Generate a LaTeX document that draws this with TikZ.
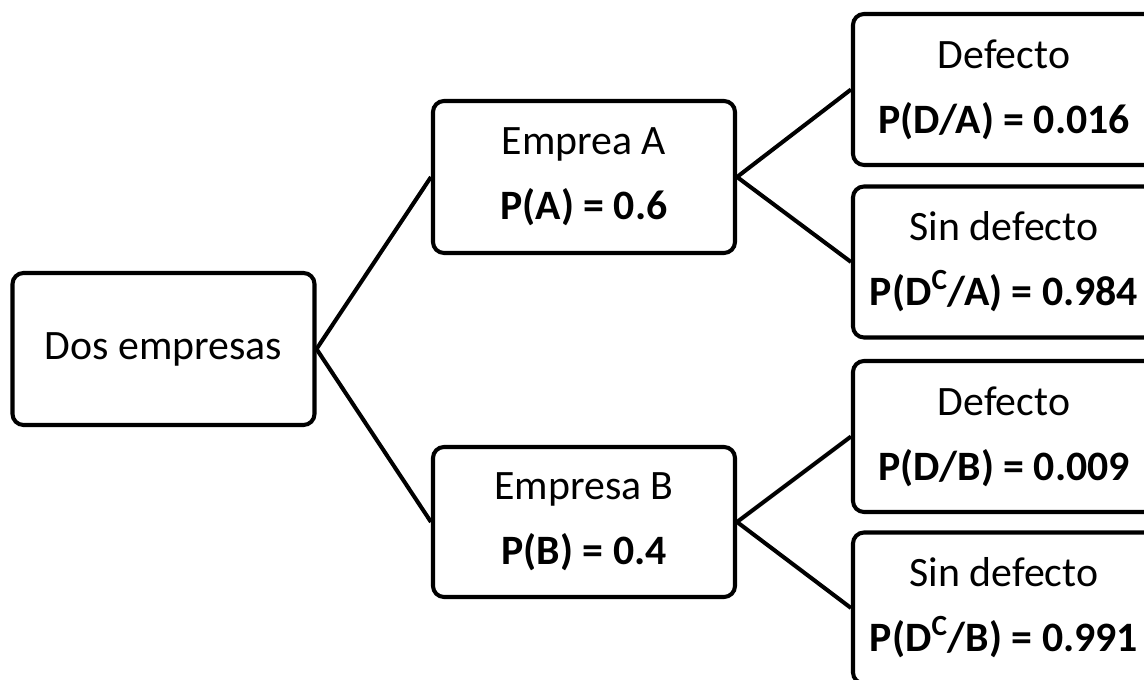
\documentclass[tikz,border=0pt]{standalone}
\usepackage{fontspec}
\setmainfont{Carlito}
\usepackage{tikz}

\begin{document}
\begin{tikzpicture}[
    probbox/.style={draw, line width=2.3pt, rounded corners=0.22cm, minimum width=6.04cm, minimum height=3.04cm, align=center, inner sep=0pt, font=\fontsize{23.8}{37}\selectfont},
    branch/.style={line width=2.3pt}
]
            \useasboundingbox (0,0) rectangle (22.88,13.6);

            % Root box
            \node[probbox] (root) at (3.27,6.62) {Dos empresas};

            % Companies
            \node[probbox] (empA) at (11.68,10.06) {Emprea A \\ \textbf{P(A) = 0.6}};
            \node[probbox, minimum height=3cm] (empB) at (11.68,3.16) {Empresa B \\ \textbf{P(B) = 0.4}};

            % Leaves for company A
            \node[probbox, minimum height=3.02cm] (defA) at (20.08,11.81) {Defecto \\ \textbf{P(D/A) = 0.016}};
            \node[probbox, minimum height=3.02cm] (sinA) at (20.08,8.36) {Sin defecto \\ \textbf{P(D\textsuperscript{C}/A) = 0.984}};

            % Leaves for company B
            \node[probbox, minimum height=3.02cm] (defB) at (20.08,4.87) {Defecto \\ \textbf{P(D/B) = 0.009}};
            \node[probbox, minimum height=3.02cm] (sinB) at (20.08,1.44) {Sin defecto \\ \textbf{P(D\textsuperscript{C}/B) = 0.991}};

            % Branches
            \draw[branch] (empA.west) -- (root.east) -- (empB.west);
            \draw[branch] (defA.west) -- (empA.east) -- (sinA.west);
            \draw[branch] (defB.west) -- (empB.east) -- (sinB.west);
        \end{tikzpicture}
\end{document}
